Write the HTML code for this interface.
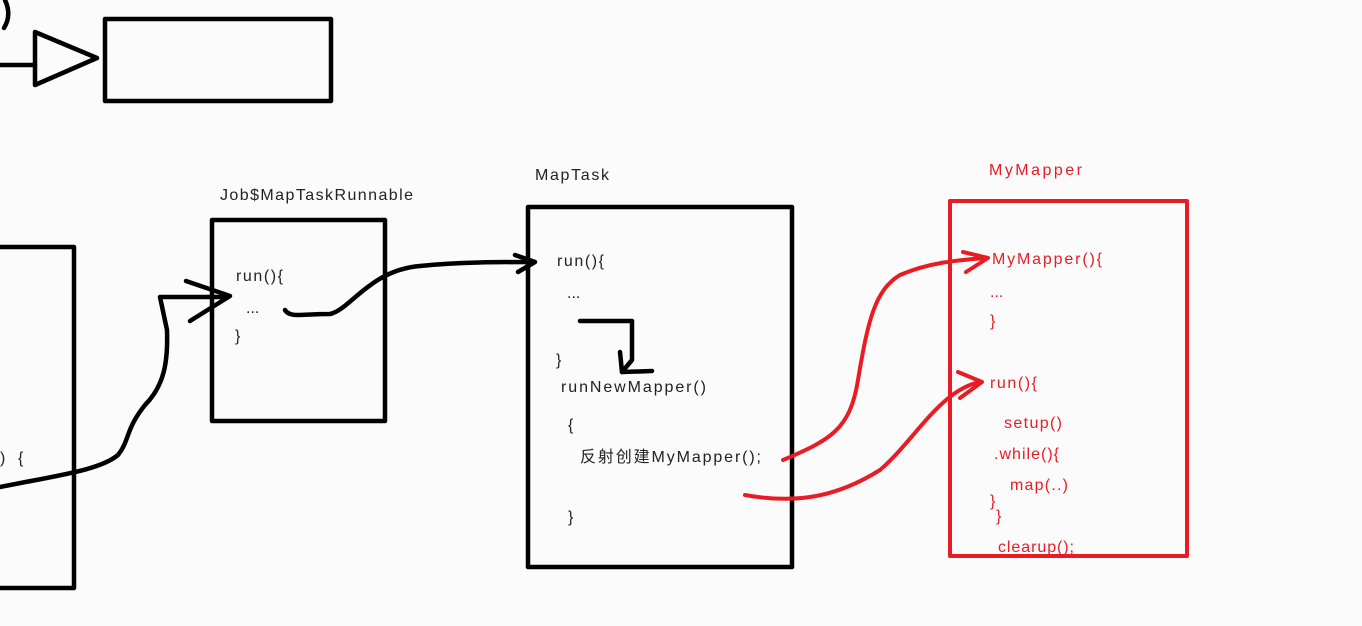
<!DOCTYPE html>
<html><head><meta charset="utf-8"><style>
html,body{margin:0;padding:0;background:#fbfbfb;}
svg{display:block}
text{font-family:"Liberation Sans","Noto Sans CJK SC",sans-serif;font-size:16px;}
</style></head><body>
<svg width="1362" height="626" viewBox="0 0 1362 626">
<rect width="1362" height="626" fill="#fbfbfb"/>
<g fill="none" stroke="#000" stroke-width="4.5" stroke-linecap="round" stroke-linejoin="round">
<path d="M5,0 Q12,15 4,28"/>
<path d="M0,65 L35,65"/>
<path d="M35,32 L35,85 L97,58 Z"/>
<rect x="105" y="19" width="226" height="82"/>
<path d="M0,247 L74,247 L74,588 L0,588"/>
<rect x="212" y="220" width="173" height="201"/>
<rect x="528" y="207" width="264" height="360"/>
<path d="M0,487 C60,475 100,470 118,455 C130,440 125,430 145,405 C165,385 168,360 167,330 L160,297 L225,297"/>
<path d="M186,281 L230,296 L190,321"/>
<path d="M285,310 C290,318 300,314 330,314 C350,310 370,270 420,266 C460,262 500,262 530,262"/>
<path d="M515,255 L535,262 L518,272"/>
<path d="M580,321 L632,321 L632,360 L622,372 L652,371"/>
<path d="M620,352 L622,372"/>
</g>
<g fill="none" stroke="#e81c24" stroke-width="4" stroke-linecap="round" stroke-linejoin="round">
<rect x="950" y="201" width="237" height="355"/>
<path d="M783,460 C830,440 850,430 858,380 C868,320 875,290 900,275 C930,262 960,260 985,258"/>
<path d="M963,252 L988,258 L966,272"/>
<path d="M745,495 C800,505 840,495 880,470 C915,440 940,390 980,382"/>
<path d="M958,372 L982,382 L960,398"/>
</g>
<g fill="#222">
<text x="220" y="200" textLength="193">Job$MapTaskRunnable</text>
<text x="236" y="281" textLength="47">run(){</text>
<text x="246" y="313" font-size="11">...</text>
<text x="235" y="341">}</text>
<text x="535" y="180" textLength="74">MapTask</text>
<text x="557" y="266" textLength="47">run(){</text>
<text x="567" y="298" font-size="11">...</text>
<text x="556" y="365">}</text>
<text x="561" y="392" textLength="145">runNewMapper()</text>
<text x="568" y="430">{</text>
<text x="580" y="462" textLength="181">反射创建MyMapper();</text>
<text x="568" y="522">}</text>
<text x="0" y="463">)</text>
<text x="18" y="463">{</text>
</g>
<g fill="#e81c24">
<text x="989" y="175" textLength="93">MyMapper</text>
<text x="992" y="264" textLength="110">MyMapper(){</text>
<text x="990" y="297" font-size="11">...</text>
<text x="990" y="326">}</text>
<text x="990" y="388" textLength="47">run(){</text>
<text x="1004" y="428" textLength="58">setup()</text>
<text x="994" y="459" textLength="65">.while(){</text>
<text x="1010" y="490" textLength="58">map(..)</text>
<text x="990" y="506">}</text>
<text x="996" y="521">}</text>
<text x="998" y="552" textLength="76">clearup();</text>
</g>
</svg>
</body></html>
